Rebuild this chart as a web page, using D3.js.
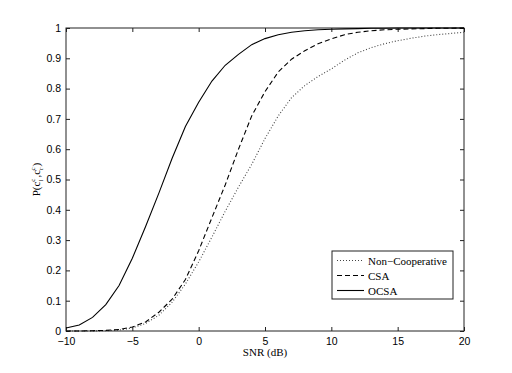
<!DOCTYPE html>
<html>
<head>
<meta charset="utf-8">
<script src="https://cdn.jsdelivr.net/npm/d3@7"></script>
<style>
  body { margin: 0; background: #fff; }
  svg { display: block; }
  .tick text { font-family: "Liberation Sans", Arial, sans-serif; font-size: 10.5px; fill: #000; }
  .lbl { font-family: "Liberation Serif", "Times New Roman", serif; font-size: 11px; fill: #000; }
</style>
</head>
<body>
<svg width="512" height="373"></svg>
<script>
const snr = [-10, -9, -8, -7, -6, -5, -4, -3, -2, -1, 0, 1, 2, 3, 4, 5, 6, 7, 8, 9, 10,
             11, 12, 13, 14, 15, 16, 17, 18, 19, 20];

const nonCoop = [0, 0, 0, 0.001, 0.003, 0.01, 0.025, 0.052, 0.095, 0.155, 0.228, 0.31, 0.395, 0.475, 0.55,
                 0.635, 0.71, 0.77, 0.81, 0.84, 0.865, 0.894, 0.918, 0.935, 0.948, 0.958, 0.966, 0.973, 0.978, 0.982, 0.986];

const csa = [0, 0, 0.001, 0.002, 0.005, 0.013, 0.03, 0.062, 0.105, 0.17, 0.265, 0.374, 0.482, 0.6, 0.71,
             0.79, 0.855, 0.897, 0.925, 0.948, 0.964, 0.978, 0.986, 0.991, 0.994, 0.996, 0.997, 0.998, 0.999, 0.999, 1.0];

const ocsa = [0.01, 0.02, 0.045, 0.087, 0.15, 0.24, 0.345, 0.455, 0.57, 0.675, 0.755, 0.825, 0.877, 0.913, 0.945,
              0.965, 0.978, 0.986, 0.991, 0.994, 0.996, 0.997, 0.998, 0.999, 0.999, 1, 1, 1, 1, 1, 1];

const xTicks = [-10, -5, 0, 5, 10, 15, 20];
const yTicks = [0, 0.1, 0.2, 0.3, 0.4, 0.5, 0.6, 0.7, 0.8, 0.9, 1];

const series = [
  { name: "Non\u2212Cooperative", values: nonCoop, dash: "1,2", color: "#444" },
  { name: "CSA", values: csa, dash: "5,3", color: "#000" },
  { name: "OCSA", values: ocsa, dash: null, color: "#000" }
];

const mLeft = 66, mRight = 464, mTop = 28, mBottom = 331;

const svg = d3.select("svg");

const x = d3.scaleLinear().domain([-10, 20]).range([mLeft, mRight]);
const y = d3.scaleLinear().domain([0, 1]).range([mBottom, mTop]);

const fmt = d => d < 0 ? "\u2212" + Math.abs(d) : String(d);

// axes, ticks pointing inward like matlab
svg.append("g")
    .attr("transform", `translate(0,${mBottom})`)
    .call(d3.axisBottom(x).tickValues(xTicks).tickFormat(fmt).tickSizeInner(-4).tickSizeOuter(0).tickPadding(7))
    .call(g => g.select(".domain").remove());

svg.append("g")
    .attr("transform", `translate(0,${mTop})`)
    .call(d3.axisTop(x).tickValues(xTicks).tickFormat("").tickSizeInner(-4).tickSizeOuter(0))
    .call(g => g.select(".domain").remove());

svg.append("g")
    .attr("transform", `translate(${mLeft},0)`)
    .call(d3.axisLeft(y).tickValues(yTicks).tickFormat(d => d3.format("")(d)).tickSizeInner(-4).tickSizeOuter(0).tickPadding(5))
    .call(g => g.select(".domain").remove());

svg.append("g")
    .attr("transform", `translate(${mRight},0)`)
    .call(d3.axisRight(y).tickValues(yTicks).tickFormat("").tickSizeInner(-4).tickSizeOuter(0))
    .call(g => g.select(".domain").remove());

svg.selectAll(".tick line").attr("stroke", "#222");

svg.append("rect")
    .attr("x", mLeft).attr("y", mTop)
    .attr("width", mRight - mLeft).attr("height", mBottom - mTop)
    .attr("fill", "none").attr("stroke", "#222").attr("stroke-width", 1);

// curves
const line = d3.line()
    .x((d, i) => x(snr[i]))
    .y(d => y(d));

svg.selectAll(".curve")
    .data(series)
    .enter()
    .append("path")
    .attr("class", "curve")
    .attr("d", d => line(d.values))
    .attr("fill", "none")
    .attr("stroke", d => d.color)
    .attr("stroke-width", 1.1)
    .attr("stroke-dasharray", d => d.dash);

// axis labels
svg.append("text")
    .attr("class", "lbl")
    .attr("x", (mLeft + mRight) / 2)
    .attr("y", 356)
    .attr("text-anchor", "middle")
    .text("SNR (dB)");

const yl = svg.append("text")
    .attr("class", "lbl")
    .attr("transform", `translate(40,${(mTop + mBottom) / 2}) rotate(-90)`)
    .attr("text-anchor", "middle");
yl.append("tspan").text("P(c");
yl.append("tspan").attr("font-size", "7px").attr("dy", 3).text("l");
yl.append("tspan").attr("font-size", "7px").attr("dx", -2).attr("dy", -8).text("c");
yl.append("tspan").attr("dx", 1).attr("dy", 5).text(",c");
yl.append("tspan").attr("font-size", "7px").attr("dy", 3).text("r");
yl.append("tspan").attr("font-size", "7px").attr("dx", -3).attr("dy", -8).text("c");
yl.append("tspan").attr("dx", 1).attr("dy", 5).text(")");

// legend
const legend = svg.append("g");
legend.append("rect")
    .attr("x", 332).attr("y", 251)
    .attr("width", 121).attr("height", 48)
    .attr("fill", "#fff").attr("stroke", "#222").attr("stroke-width", 1);

const rows = legend.selectAll(".row")
    .data(series)
    .enter()
    .append("g")
    .attr("transform", (d, i) => `translate(0,${260.5 + i * 15})`);

rows.append("line")
    .attr("x1", 337).attr("x2", 364)
    .attr("y1", 0).attr("y2", 0)
    .attr("stroke", d => d.color)
    .attr("stroke-width", 1.1)
    .attr("stroke-dasharray", d => d.dash);

rows.append("text")
    .attr("class", "lbl")
    .attr("x", 368)
    .attr("y", 4)
    .text(d => d.name);
</script>
</body>
</html>
